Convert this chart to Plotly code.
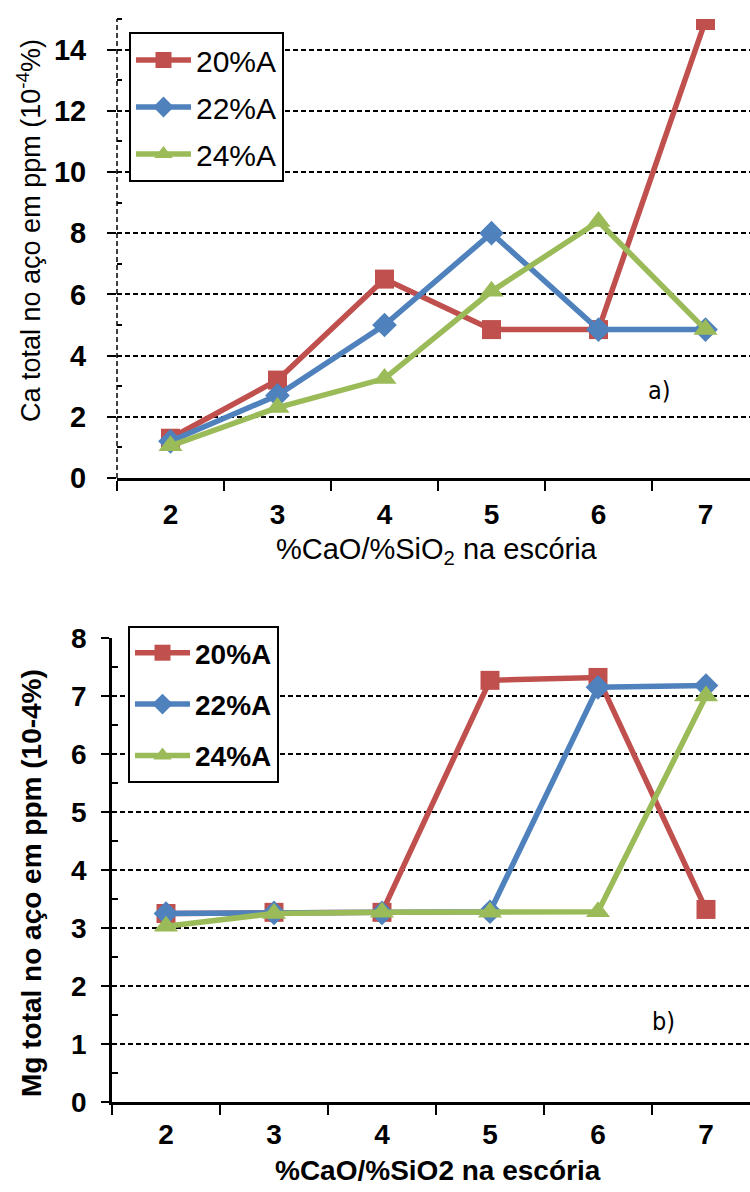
import plotly.graph_objects as go

categories = ["2", "3", "4", "5", "6", "7"]
series_names = ["20%A", "22%A", "24%A"]

ca_20 = [1.3, 3.2, 6.5, 4.85, 4.85, 14.95]
ca_22 = [1.2, 2.7, 5.0, 8.0, 4.85, 4.85]
ca_24 = [1.05, 2.3, 3.25, 6.1, 8.38, 4.85]

mg_20 = [3.25, 3.27, 3.27, 7.27, 7.32, 3.32]
mg_22 = [3.25, 3.26, 3.26, 3.28, 7.15, 7.18]
mg_24 = [3.03, 3.25, 3.27, 3.27, 3.28, 7.0]

colors = ["#C0504D", "#4F81BD", "#9BBB59"]
symbols = ["square", "diamond", "triangle-up"]
msizes = [19, 19, 21]

W, H = 750, 1192
FONT = "Liberation Sans, Arial, sans-serif"
NARROW = "Liberation Sans Narrow, DejaVu Sans Condensed, Arial Narrow, sans-serif"

fig = go.Figure()

for i, (name, ys) in enumerate(zip(series_names, [ca_20, ca_22, ca_24])):
    fig.add_trace(go.Scatter(
        x=categories, y=ys, name=name, mode="lines+markers",
        line=dict(color=colors[i], width=5.5),
        marker=dict(symbol=symbols[i], size=msizes[i], color=colors[i]),
        xaxis="x", yaxis="y", legend="legend", legendgroup=f"a{i}",
    ))
for i, (name, ys) in enumerate(zip(series_names, [mg_20, mg_22, mg_24])):
    fig.add_trace(go.Scatter(
        x=categories, y=ys, name=name, mode="lines+markers",
        line=dict(color=colors[i], width=5.5),
        marker=dict(symbol=symbols[i], size=msizes[i], color=colors[i]),
        xaxis="x2", yaxis="y2", legend="legend2", legendgroup=f"b{i}",
    ))

# pixel geometry
top_left, top_y0, top_y1 = 117, 478, 19
bot_left, bot_y0, bot_y1 = 112, 1102, 638
top_cat_w, bot_cat_w = 107, 108

def ydom(y0, y1):
    return [1 - y0 / H, 1 - y1 / H]

common_x = dict(
    type="category", showgrid=False, showline=True, linecolor="black", linewidth=2.5,
    ticks="outside", ticklen=10, tickwidth=1.5, tickcolor="black", tickson="boundaries",
    tickfont=dict(family=FONT, size=28, color="black", weight="bold"),
    zeroline=False, fixedrange=True, automargin=False,
)

fig.update_layout(
    width=W, height=H, margin=dict(l=0, r=0, t=0, b=0, autoexpand=False),
    paper_bgcolor="white", plot_bgcolor="white",
    font=dict(family=FONT, color="black"),
    xaxis=dict(**common_x, domain=[top_left / W, 1], anchor="y",
               range=[-0.5, -0.5 + (W - top_left) / top_cat_w], ticklabelstandoff=10),
    yaxis=dict(domain=ydom(top_y0, top_y1), anchor="x", range=[0, 15],
               tickvals=[0, 2, 4, 6, 8, 10, 12, 14], showline=False, automargin=False,
               showgrid=True, gridcolor="black", gridwidth=1.5, griddash="5px,3px",
               ticks="outside", ticklen=9, tickwidth=1.5, tickcolor="black",
               minor=dict(tickvals=[1, 3, 5, 7, 9, 11, 13, 15], ticks="inside", ticklen=5,
                          tickwidth=1.5, tickcolor="black", showgrid=False),
               tickfont=dict(family=FONT, size=29, color="black", weight="bold"),
               zeroline=False, ticklabelstandoff=15),
    xaxis2=dict(**common_x, domain=[bot_left / W, 1], anchor="y2",
                range=[-0.5, -0.5 + (W - bot_left) / bot_cat_w], ticklabelstandoff=6),
    yaxis2=dict(domain=ydom(bot_y0, bot_y1), anchor="x2", range=[0, 8],
                tickvals=[0, 1, 2, 3, 4, 5, 6, 7, 8], showline=True, linecolor="black",
                linewidth=2.5, automargin=False,
                showgrid=True, gridcolor="black", gridwidth=1.5, griddash="5px,3px",
                ticks="outside", ticklen=8, tickwidth=1.5, tickcolor="black",
                minor=dict(tickvals=[0.5, 1.5, 2.5, 3.5, 4.5, 5.5, 6.5, 7.5], ticks="inside",
                           ticklen=6, tickwidth=1.5, tickcolor="black", showgrid=False),
                tickfont=dict(family=FONT, size=28, color="black", weight="bold"),
                zeroline=False, ticklabelstandoff=9),
    legend=dict(x=129 / W, y=1 - 32 / H, xanchor="left", yanchor="top",
                bgcolor="white", bordercolor="black", borderwidth=2,
                font=dict(family=FONT, size=30, color="black"),
                itemwidth=55, tracegroupgap=5),
    legend2=dict(x=128 / W, y=1 - 626 / H, xanchor="left", yanchor="top",
                 bgcolor="white", bordercolor="black", borderwidth=2,
                 font=dict(family=FONT, size=28, color="black", weight="bold"),
                 itemwidth=55, tracegroupgap=12),
    showlegend=True,
)

# dashed vertical axis line for the top chart
fig.add_shape(type="line", xref="x domain", yref="y", x0=0, x1=0, y0=0, y1=15,
              line=dict(color="black", width=1.5, dash="5px,3px"), layer="below")

def A(text, x, y, size, family=FONT, angle=0):
    return dict(text=text, x=x / W, y=1 - y / H, xref="paper", yref="paper",
                xanchor="center", yanchor="middle", showarrow=False, textangle=angle,
                font=dict(family=family, size=size, color="black"))

ann = [
    A("%CaO/%SiO<sub>2</sub> na escória", 437, 551, 29),
    A("Ca total no aço em ppm (10<sup>-4</sup>%)", 29, 231, 27, angle=-90),
    A("<b>%CaO/%SiO2 na escória</b>", 438, 1170, 28),
    A("<b>Mg total no aço em ppm (10-4%)</b>", 31, 883, 28, angle=-90),
    A("a)", 659, 391, 25, family=NARROW),
    A("b)", 663, 1021, 25, family=NARROW),
]
fig.update_layout(annotations=ann)

fig.write_html("out.html")
